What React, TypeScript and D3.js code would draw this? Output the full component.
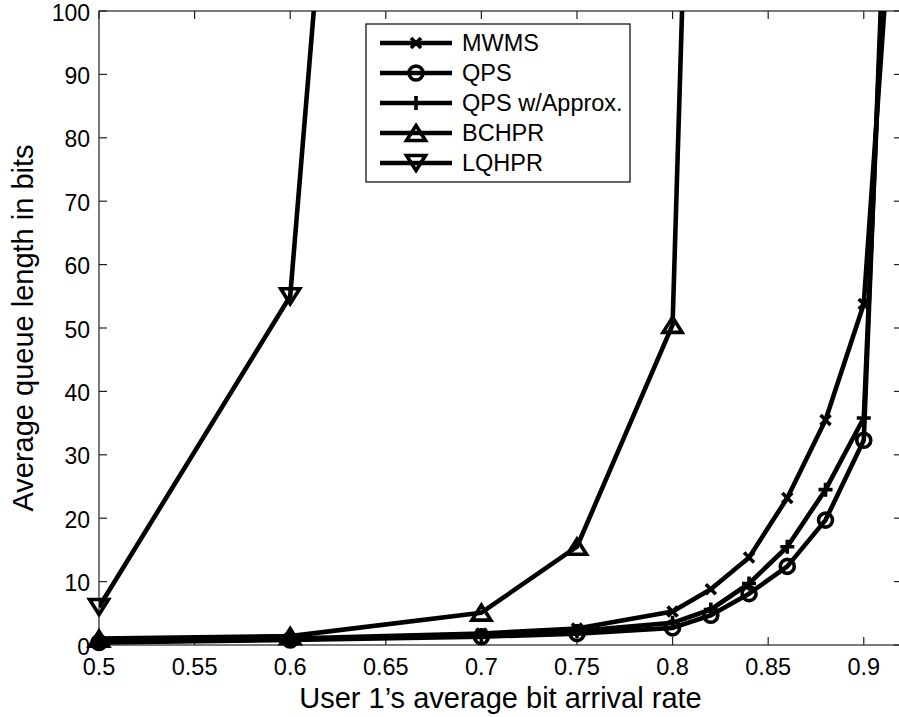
import React from "react";
import * as d3 from "d3";

const xValues = [0.5, 0.6, 0.7, 0.75, 0.8, 0.82, 0.84, 0.86, 0.88, 0.9, 0.92];
const mwms = [0.6, 1.0, 1.8, 2.6, 5.3, 8.8, 13.8, 23.2, 35.5, 53.8, 140];
const qps = [0.4, 0.8, 1.3, 1.8, 2.7, 4.7, 8.1, 12.4, 19.7, 32.3, 185];
const qpsApprox = [0.5, 0.9, 1.5, 2.2, 3.5, 5.6, 9.7, 15.5, 24.5, 35.8, 175];
const bchprX = [0.5, 0.6, 0.7, 0.75, 0.8, 0.82];
const bchpr = [1.0, 1.4, 5.1, 15.5, 50.5, 250];
const lqhprX = [0.5, 0.6, 0.7];
const lqhpr = [6.0, 55.0, 420];

const xTicks = [0.5, 0.55, 0.6, 0.65, 0.7, 0.75, 0.8, 0.85, 0.9];
const yTicks = [0, 10, 20, 30, 40, 50, 60, 70, 80, 90, 100];
const legendLabels = ["MWMS", "QPS", "QPS w/Approx.", "BCHPR", "LQHPR"];

type Marker = "x" | "o" | "+" | "^" | "v";

const series: { name: string; xs: number[]; ys: number[]; marker: Marker }[] = [
  { name: legendLabels[0], xs: xValues, ys: mwms, marker: "x" },
  { name: legendLabels[1], xs: xValues, ys: qps, marker: "o" },
  { name: legendLabels[2], xs: xValues, ys: qpsApprox, marker: "+" },
  { name: legendLabels[3], xs: bchprX, ys: bchpr, marker: "^" },
  { name: legendLabels[4], xs: lqhprX, ys: lqhpr, marker: "v" },
];

const W = 899;
const H = 717;
const left = 99;
const right = 902;
const top = 11;
const bottom = 645;
const font = "'Liberation Sans', Arial, Helvetica, sans-serif";
const LW = 4.6;

function MarkerShape({ type, cx, cy }: { type: Marker; cx: number; cy: number }) {
  const sw = 3.6;
  if (type === "x") {
    const s = 5;
    return (
      <path
        d={`M${cx - s},${cy - s}L${cx + s},${cy + s}M${cx - s},${cy + s}L${cx + s},${cy - s}`}
        stroke="#000"
        strokeWidth={sw}
        fill="none"
      />
    );
  }
  if (type === "o") {
    return <circle cx={cx} cy={cy} r={7} stroke="#000" strokeWidth={sw} fill="none" />;
  }
  if (type === "+") {
    const s = 7;
    return (
      <path
        d={`M${cx - s},${cy}L${cx + s},${cy}M${cx},${cy - s}L${cx},${cy + s}`}
        stroke="#000"
        strokeWidth={sw}
        fill="none"
      />
    );
  }
  const hw = 9.5;
  const hh = 7.5;
  const d =
    type === "^"
      ? `M${cx},${cy - hh}L${cx + hw},${cy + hh}L${cx - hw},${cy + hh}Z`
      : `M${cx},${cy + hh}L${cx + hw},${cy - hh}L${cx - hw},${cy - hh}Z`;
  return <path d={d} stroke="#000" strokeWidth={sw} fill="none" strokeLinejoin="miter" />;
}

export default function App() {
  const x = d3.scaleLinear().domain([0.5, 0.92]).range([left, right]);
  const y = d3.scaleLinear().domain([0, 100]).range([bottom, top]);
  const line = d3
    .line<[number, number]>()
    .x((d) => x(d[0]))
    .y((d) => y(d[1]));

  const tickLen = 8;
  const legX = 366;
  const legY = 24;
  const legW = 264;
  const legH = 158;
  const rowY0 = 43;
  const rowStep = 30;

  return (
    <svg
      width={W}
      height={H}
      style={{ position: "absolute", left: 0, top: 0, background: "#fff" }}
      fontFamily={font}
    >
      <rect x={0} y={0} width={W} height={H} fill="#fff" />
      <defs>
        <clipPath id="plotclip">
          <rect x={left} y={top} width={right - left} height={bottom - top} />
        </clipPath>
      </defs>

      {/* axes box */}
      <rect x={left} y={top} width={right - left} height={bottom - top} fill="none" stroke="#222" strokeWidth={1.2} />

      {/* x ticks */}
      {xTicks.map((t) => (
        <g key={"xt" + t}>
          <line x1={x(t)} x2={x(t)} y1={bottom} y2={bottom - tickLen} stroke="#222" strokeWidth={1.2} />
          <line x1={x(t)} x2={x(t)} y1={top} y2={top + tickLen} stroke="#222" strokeWidth={1.2} />
          <text x={x(t)} y={675} textAnchor="middle" fontSize={23.5} fill="#000">
            {String(t)}
          </text>
        </g>
      ))}

      {/* y ticks */}
      {yTicks.map((t) => (
        <g key={"yt" + t}>
          <line x1={left} x2={left + tickLen} y1={y(t)} y2={y(t)} stroke="#222" strokeWidth={1.2} />
          <line x1={right} x2={right - tickLen} y1={y(t)} y2={y(t)} stroke="#222" strokeWidth={1.2} />
          <text x={90} y={y(t) + 9.5} textAnchor="end" fontSize={23} fill="#000">
            {String(t)}
          </text>
        </g>
      ))}

      {/* axis titles */}
      <text x={(left + right) / 2} y={708} textAnchor="middle" fontSize={29} fill="#000">
        User 1’s average bit arrival rate
      </text>
      <text
        transform={`translate(33,${(top + bottom) / 2}) rotate(-90)`}
        textAnchor="middle"
        fontSize={29}
        fill="#000"
      >
        Average queue length in bits
      </text>

      {/* series lines */}
      <g clipPath="url(#plotclip)">
        {series.map((s) => (
          <path
            key={"l" + s.name}
            d={line(s.xs.map((v, i) => [v, s.ys[i]] as [number, number])) || ""}
            fill="none"
            stroke="#000"
            strokeWidth={LW}
            strokeLinejoin="round"
          />
        ))}
      </g>

      {/* markers */}
      {series.map((s) => (
        <g key={"m" + s.name}>
          {s.xs.map((v, i) =>
            s.ys[i] <= 100 && v <= 0.92 ? (
              <MarkerShape key={i} type={s.marker} cx={x(v)} cy={y(s.ys[i])} />
            ) : null
          )}
        </g>
      ))}

      {/* legend */}
      <rect x={legX} y={legY} width={legW} height={legH} fill="#fff" stroke="#000" strokeWidth={1.2} />
      {series.map((s, i) => {
        const ry = rowY0 + i * rowStep;
        return (
          <g key={"lg" + s.name}>
            <line x1={380} x2={452} y1={ry} y2={ry} stroke="#000" strokeWidth={LW} />
            <MarkerShape type={s.marker} cx={416} cy={ry} />
            <text x={462} y={ry} dy="0.36em" fontSize={23.5} fill="#000">
              {s.name}
            </text>
          </g>
        );
      })}
    </svg>
  );
}
